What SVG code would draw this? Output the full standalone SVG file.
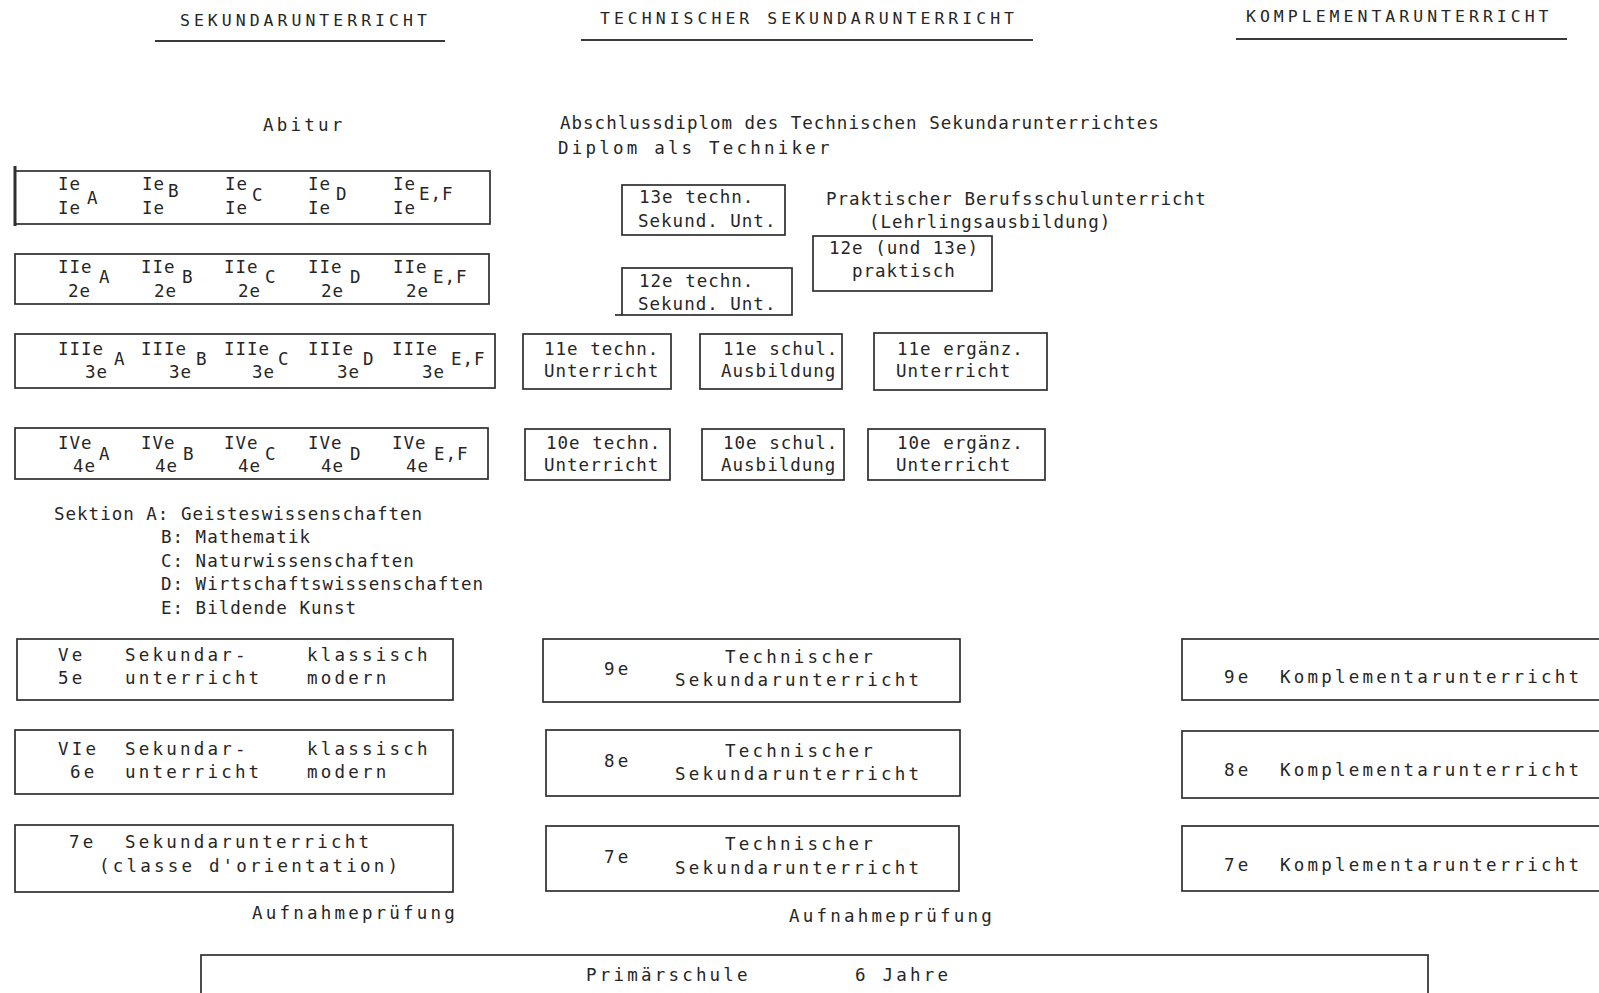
<svg xmlns="http://www.w3.org/2000/svg" width="1599" height="993" viewBox="0 0 1599 993">
<style>
text { font-family: "DejaVu Sans Mono", "Liberation Mono", monospace; font-size: 17.5px; fill: #262626; }
.n { letter-spacing: 1.0px; }
.w { letter-spacing: 3.2px; }
.h { letter-spacing: 4.0px; font-size: 16.5px; }
.box { fill: none; stroke: #2e2e2e; stroke-width: 1.7; }
.ul { stroke: #3a3a3a; stroke-width: 2; fill: none; }
</style>
<rect width="1599" height="993" fill="#ffffff"/>

<g id="headers">
  <text class="h" x="180" y="26">SEKUNDARUNTERRICHT</text>
  <line class="ul" x1="155" y1="41" x2="445" y2="41"/>
  <text class="h" x="600" y="24">TECHNISCHER SEKUNDARUNTERRICHT</text>
  <line class="ul" x1="581" y1="40" x2="1033" y2="40"/>
  <text class="h" x="1246" y="22">KOMPLEMENTARUNTERRICHT</text>
  <line class="ul" x1="1236" y1="39" x2="1567" y2="39"/>
</g>

<g id="abschluesse">
  <text class="w" x="263" y="131">Abitur</text>
  <text class="n" x="560" y="129">Abschlussdiplom des Technischen Sekundarunterrichtes</text>
  <text class="w" x="558" y="154">Diplom als Techniker</text>
</g>

<g id="sek-I">
  <rect class="box" x="15" y="171" width="475" height="53"/>
  <line x1="15" y1="166" x2="15" y2="226" stroke="#2e2e2e" stroke-width="3"/>
  <text class="n" x="58" y="190">Ie</text><text class="n" x="58" y="214">Ie</text><text class="n" x="87" y="204">A</text>
  <text class="n" x="142" y="190">Ie</text><text class="n" x="142" y="214">Ie</text><text class="n" x="168" y="197">B</text>
  <text class="n" x="225" y="190">Ie</text><text class="n" x="225" y="214">Ie</text><text class="n" x="252" y="201">C</text>
  <text class="n" x="308" y="190">Ie</text><text class="n" x="308" y="214">Ie</text><text class="n" x="336" y="200">D</text>
  <text class="n" x="393" y="190">Ie</text><text class="n" x="393" y="214">Ie</text><text class="n" x="419" y="200">E,F</text>
</g>

<g id="sek-II">
  <rect class="box" x="15" y="254" width="474" height="50"/>
  <text class="n" x="58" y="273">IIe</text><text class="n" x="68" y="297">2e</text><text class="n" x="99" y="283">A</text>
  <text class="n" x="141" y="273">IIe</text><text class="n" x="154" y="297">2e</text><text class="n" x="182" y="283">B</text>
  <text class="n" x="224" y="273">IIe</text><text class="n" x="238" y="297">2e</text><text class="n" x="265" y="283">C</text>
  <text class="n" x="308" y="273">IIe</text><text class="n" x="321" y="297">2e</text><text class="n" x="350" y="283">D</text>
  <text class="n" x="393" y="273">IIe</text><text class="n" x="406" y="297">2e</text><text class="n" x="433" y="283">E,F</text>
</g>

<g id="sek-III">
  <rect class="box" x="15" y="334" width="480" height="54"/>
  <text class="n" x="58" y="355">IIIe</text><text class="n" x="85" y="378">3e</text><text class="n" x="114" y="365">A</text>
  <text class="n" x="141" y="355">IIIe</text><text class="n" x="169" y="378">3e</text><text class="n" x="196" y="365">B</text>
  <text class="n" x="224" y="355">IIIe</text><text class="n" x="252" y="378">3e</text><text class="n" x="278" y="365">C</text>
  <text class="n" x="308" y="355">IIIe</text><text class="n" x="337" y="378">3e</text><text class="n" x="363" y="365">D</text>
  <text class="n" x="392" y="355">IIIe</text><text class="n" x="422" y="378">3e</text><text class="n" x="451" y="365">E,F</text>
</g>

<g id="sek-IV">
  <rect class="box" x="15" y="428" width="473" height="51"/>
  <text class="n" x="58" y="449">IVe</text><text class="n" x="73" y="472">4e</text><text class="n" x="99" y="460">A</text>
  <text class="n" x="141" y="449">IVe</text><text class="n" x="155" y="472">4e</text><text class="n" x="183" y="460">B</text>
  <text class="n" x="224" y="449">IVe</text><text class="n" x="238" y="472">4e</text><text class="n" x="265" y="460">C</text>
  <text class="n" x="308" y="449">IVe</text><text class="n" x="321" y="472">4e</text><text class="n" x="350" y="460">D</text>
  <text class="n" x="392" y="449">IVe</text><text class="n" x="406" y="472">4e</text><text class="n" x="434" y="460">E,F</text>
</g>

<g id="legende">
  <text class="n" x="54" y="520">Sektion A: Geisteswissenschaften</text>
  <text class="n" x="161" y="543">B: Mathematik</text>
  <text class="n" x="161" y="567">C: Naturwissenschaften</text>
  <text class="n" x="161" y="590">D: Wirtschaftswissenschaften</text>
  <text class="n" x="161" y="614">E: Bildende Kunst</text>
</g>

<g id="tech-13">
  <rect class="box" x="622" y="185" width="163" height="50"/>
  <text class="n" x="639" y="203">13e techn.</text>
  <text class="n" x="638" y="227">Sekund. Unt.</text>
</g>
<g id="tech-12">
  <rect class="box" x="622" y="268" width="170" height="47"/>
  <line class="box" x1="615" y1="315" x2="622" y2="315"/>
  <text class="n" x="639" y="287">12e techn.</text>
  <text class="n" x="638" y="310">Sekund. Unt.</text>
</g>
<g id="praktisch-titel">
  <text class="n" x="826" y="205">Praktischer Berufsschulunterricht</text>
  <text class="n" x="869" y="228">(Lehrlingsausbildung)</text>
</g>
<g id="praktisch-12">
  <rect class="box" x="813" y="236" width="179" height="55"/>
  <text class="n" x="829" y="254">12e (und 13e)</text>
  <text class="n" x="852" y="277">praktisch</text>
</g>

<g id="tech-11">
  <rect class="box" x="523" y="334" width="148" height="55"/>
  <text class="n" x="544" y="355">11e techn.</text>
  <text class="n" x="544" y="377">Unterricht</text>
</g>
<g id="schul-11">
  <rect class="box" x="700" y="334" width="142" height="55"/>
  <text class="n" x="723" y="355">11e schul.</text>
  <text class="n" x="721" y="377">Ausbildung</text>
</g>
<g id="ergaenz-11">
  <rect class="box" x="874" y="333" width="173" height="57"/>
  <text class="n" x="897" y="355">11e ergänz.</text>
  <text class="n" x="896" y="377">Unterricht</text>
</g>

<g id="tech-10">
  <rect class="box" x="525" y="429" width="145" height="51"/>
  <text class="n" x="546" y="449">10e techn.</text>
  <text class="n" x="544" y="471">Unterricht</text>
</g>
<g id="schul-10">
  <rect class="box" x="702" y="429" width="142" height="51"/>
  <text class="n" x="723" y="449">10e schul.</text>
  <text class="n" x="721" y="471">Ausbildung</text>
</g>
<g id="ergaenz-10">
  <rect class="box" x="868" y="429" width="177" height="51"/>
  <text class="n" x="897" y="449">10e ergänz.</text>
  <text class="n" x="896" y="471">Unterricht</text>
</g>

<g id="sek-V">
  <rect class="box" x="17" y="639" width="436" height="61"/>
  <text class="w" x="58" y="661">Ve</text><text class="w" x="58" y="684">5e</text>
  <text class="w" x="125" y="661">Sekundar-</text><text class="w" x="125" y="684">unterricht</text>
  <text class="w" x="307" y="661">klassisch</text><text class="w" x="307" y="684">modern</text>
</g>
<g id="sek-VI">
  <rect class="box" x="15" y="730" width="438" height="64"/>
  <text class="w" x="58" y="755">VIe</text><text class="w" x="70" y="778">6e</text>
  <text class="w" x="125" y="755">Sekundar-</text><text class="w" x="125" y="778">unterricht</text>
  <text class="w" x="307" y="755">klassisch</text><text class="w" x="307" y="778">modern</text>
</g>
<g id="sek-VII">
  <rect class="box" x="15" y="825" width="438" height="67"/>
  <text class="w" x="69" y="848">7e</text>
  <text class="w" x="125" y="848">Sekundarunterricht</text>
  <text class="w" x="99" y="872">(classe d'orientation)</text>
</g>
<g id="aufnahme-sek">
  <text class="w" x="252" y="919">Aufnahmeprüfung</text>
</g>

<g id="tech-9">
  <rect class="box" x="543" y="639" width="417" height="63"/>
  <text class="w" x="604" y="675">9e</text>
  <text class="w" x="725" y="663">Technischer</text>
  <text class="w" x="675" y="686">Sekundarunterricht</text>
</g>
<g id="tech-8">
  <rect class="box" x="546" y="730" width="414" height="66"/>
  <text class="w" x="604" y="767">8e</text>
  <text class="w" x="725" y="757">Technischer</text>
  <text class="w" x="675" y="780">Sekundarunterricht</text>
</g>
<g id="tech-7">
  <rect class="box" x="546" y="826" width="413" height="65"/>
  <text class="w" x="604" y="863">7e</text>
  <text class="w" x="725" y="850">Technischer</text>
  <text class="w" x="675" y="874">Sekundarunterricht</text>
</g>
<g id="aufnahme-tech">
  <text class="w" x="789" y="922">Aufnahmeprüfung</text>
</g>

<g id="kompl-9">
  <rect class="box" x="1182" y="639" width="440" height="61"/>
  <text class="w" x="1224" y="683">9e</text>
  <text class="w" x="1280" y="683">Komplementarunterricht</text>
</g>
<g id="kompl-8">
  <rect class="box" x="1182" y="731" width="440" height="67"/>
  <text class="w" x="1224" y="776">8e</text>
  <text class="w" x="1280" y="776">Komplementarunterricht</text>
</g>
<g id="kompl-7">
  <rect class="box" x="1182" y="826" width="440" height="65"/>
  <text class="w" x="1224" y="871">7e</text>
  <text class="w" x="1280" y="871">Komplementarunterricht</text>
</g>

<g id="primaerschule">
  <rect class="box" x="201" y="955" width="1227" height="50"/>
  <text class="w" x="586" y="981">Primärschule</text>
  <text class="w" x="855" y="981">6 Jahre</text>
</g>

<g id="connectors"></g>
</svg>
